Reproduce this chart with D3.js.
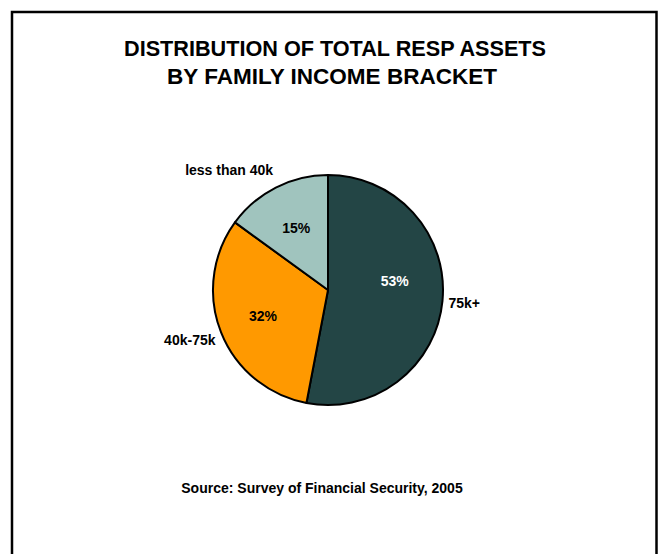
<!DOCTYPE html>
<html>
<head>
<meta charset="utf-8">
<script src="https://cdn.jsdelivr.net/npm/d3@7"></script>
<style>
  body { margin: 0; background: #fff; }
  svg text { font-family: "Liberation Sans", Arial, sans-serif; font-weight: bold; fill: #000; }
</style>
</head>
<body>
<div id="chart"></div>
<script>
const categories = ["75k+", "40k-75k", "less than 40k"];
const shares = [53, 32, 15];
const colors = ["#234545", "#ff9900", "#a0c4be"];
const pctColors = ["#ffffff", "#000000", "#000000"];
const titleLines = ["DISTRIBUTION OF TOTAL RESP ASSETS", "BY FAMILY INCOME BRACKET"];
const source = "Source: Survey of Financial Security, 2005";

const width = 660;
const height = 554;
const cx = 328;
const cy = 290;
const radius = 115;

const svg = d3.select("#chart")
  .append("svg")
  .attr("width", width)
  .attr("height", height);

// frame (bottom edge runs off the page, as in the source)
svg.append("rect")
  .attr("x", 12)
  .attr("y", 12)
  .attr("width", 644.5)
  .attr("height", 600)
  .attr("fill", "none")
  .attr("stroke", "#000")
  .attr("stroke-width", 2.5);

// title is set narrow, like the original condensed face
const titleWidths = [422, 330];
svg.selectAll(".title")
  .data(titleLines)
  .join("text")
  .attr("class", "title")
  .attr("x", (d, i) => (i === 0 ? 335 : 332))
  .attr("y", (d, i) => 55.5 + i * 28)
  .attr("text-anchor", "middle")
  .attr("font-size", 22.5)
  .attr("textLength", (d, i) => titleWidths[i])
  .attr("lengthAdjust", "spacingAndGlyphs")
  .text((d) => d);

const data = categories.map((name, i) => ({ name, value: shares[i], color: colors[i], pctColor: pctColors[i] }));

const pie = d3.pie().sort(null).value((d) => d.value);
const arcs = pie(data);

const arc = d3.arc().innerRadius(0).outerRadius(radius);
const pctArc = d3.arc().innerRadius(70).outerRadius(70);
const nameArc = d3.arc().innerRadius(121).outerRadius(121);

const g = svg.append("g").attr("transform", `translate(${cx},${cy})`);

g.selectAll(".slice")
  .data(arcs)
  .join("path")
  .attr("class", "slice")
  .attr("d", arc)
  .attr("fill", (d) => d.data.color)
  .attr("stroke", "#000")
  .attr("stroke-width", 2)
  .attr("stroke-linejoin", "round");

// the big slice's label sits a bit higher than its centroid in the original
g.selectAll(".pct")
  .data(arcs)
  .join("text")
  .attr("class", "pct")
  .attr("x", (d, i) => pctArc.centroid(d)[0] - (i === 0 ? 3 : 0))
  .attr("y", (d, i) => pctArc.centroid(d)[1] + 5 - (i === 0 ? 16 : 0))
  .attr("text-anchor", "middle")
  .attr("font-size", 14)
  .style("fill", (d) => d.data.pctColor)
  .text((d) => d.data.value + "%");

g.selectAll(".name")
  .data(arcs)
  .join("text")
  .attr("class", "name")
  .each(function (d) {
    const mid = (d.startAngle + d.endAngle) / 2;
    const [x, y] = nameArc.centroid(d);
    d3.select(this)
      .attr("x", x)
      .attr("y", y - Math.cos(mid) * 14 + 5)
      .attr("text-anchor", Math.sin(mid) > 0 ? "start" : "end");
  })
  .attr("font-size", 14)
  .text((d) => d.data.name);

svg.append("text")
  .attr("x", 322)
  .attr("y", 493)
  .attr("text-anchor", "middle")
  .attr("font-size", 14)
  .text(source);
</script>
</body>
</html>
